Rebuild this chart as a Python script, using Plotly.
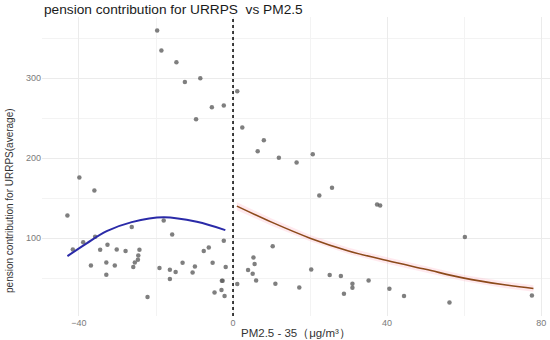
import plotly.graph_objects as go

# scatter points: x = PM2.5 - 35, y = pension contribution
pts_x = [-19.7, -18.6, -14.7, -12.5, -8.5, -5.5, -2.4, -9.6, 1.1,
         2.4, 8.0, 6.4, 11.9, 16.5, 20.7, 25.7, 22.4,
         37.4, 38.2, 10.3, 5.3, 5.6, 3.9, 5.1, 6.0, 1.1, 11.0, 20.3, 25.1, 28.0,
         17.2, 31.0, 31.0, 28.8, 35.2, 40.6, 44.4, 56.2, 60.2, 77.6,
         -39.9, -36.0, -43.0, -26.3, -18.0, -15.8, -38.9, -35.8, -41.6, -34.5,
         -32.6, -30.2, -27.9, -24.3, -24.6, -24.7, -25.5, -25.9, -36.9, -32.9,
         -30.7, -32.9, -22.2, -19.1, -16.4, -16.4, -14.9, -13.1, -9.9, -10.5,
         -7.6, -6.3, -5.3, -2.4, -1.9, -2.9, -2.7, -3.0, -4.8, -2.2]
pts_y = [359.6, 334.6, 320.0, 295.4, 300.0, 263.8, 265.8, 248.7, 283.7,
         238.3, 222.5, 208.8, 200.4, 194.6, 205.0, 162.9, 153.3,
         142.0, 140.8, 90.0, 75.8, 67.5, 60.0, 55.4, 47.1, 42.5, 42.9, 60.8, 53.8, 52.5,
         38.3, 42.9, 37.9, 30.4, 47.1, 36.6, 27.5, 19.6, 101.3, 28.3,
         175.8, 159.6, 128.4, 113.8, 122.0, 104.6, 95.0, 101.7, 85.8, 85.4,
         91.7, 85.8, 83.8, 85.4, 78.3, 72.9, 69.6, 63.8, 65.8, 69.6,
         65.8, 54.2, 26.3, 62.5, 60.4, 48.8, 57.5, 69.2, 64.6, 57.1,
         83.8, 88.3, 69.2, 96.7, 63.8, 46.7, 46.7, 35.0, 32.1, 27.5]

# fitted curve below the cutoff
blue_x = [-43.0, -38.0, -32.8, -26.3, -18.0, -9.4, -2.0]
blue_y = [77.5, 93.5, 108.7, 120.0, 126.2, 120.4, 110.0]

# fitted curve above the cutoff
brown_x = [1.0, 10.0, 20.0, 30.0, 40.0, 50.0, 60.0, 70.0, 78.0]
brown_y = [140.0, 120.0, 100.0, 84.0, 72.0, 61.0, 50.0, 42.0, 37.0]
brown_lo = [135.0, 115.5, 96.0, 80.0, 68.0, 57.0, 46.0, 38.0, 33.0]
brown_hi = [145.0, 124.5, 104.0, 88.0, 76.0, 65.0, 54.0, 46.0, 41.0]

cutoff = 0

x_ticks = [-40, 0, 40, 80]
y_ticks = [100, 200, 300]

fig = go.Figure()

fig.add_trace(go.Scatter(
    x=pts_x, y=pts_y, mode="markers",
    marker=dict(size=4.5, color="rgba(95,95,95,0.8)"),
    showlegend=False, hoverinfo="skip"))

fig.add_trace(go.Scatter(
    x=brown_x + brown_x[::-1], y=brown_hi + brown_lo[::-1],
    fill="toself", fillcolor="rgba(255,182,200,0.3)",
    line=dict(width=0), mode="lines", showlegend=False, hoverinfo="skip"))

fig.add_trace(go.Scatter(
    x=blue_x, y=blue_y, mode="lines", line_shape="spline",
    line=dict(color="#2a2aa8", width=2), showlegend=False))

fig.add_trace(go.Scatter(
    x=brown_x, y=brown_y, mode="lines", line_shape="spline",
    line=dict(color="#8c4a1a", width=1.6), showlegend=False))

fig.add_vline(x=cutoff, line=dict(color="black", width=1.5, dash="dot"))

fig.update_layout(
    width=550, height=340,
    margin=dict(l=42, r=0, t=17, b=24),
    plot_bgcolor="white", paper_bgcolor="white",
    font=dict(family="Liberation Sans, Arial, sans-serif"),
    title=dict(text="pension contribution for URRPS  vs PM2.5",
               xref="container", x=44 / 550, xanchor="left",
               yref="container", y=1 - 9 / 340, yanchor="middle",
               font=dict(size=13.7, color="#1a1a1a")),
    xaxis=dict(range=[-49.6, 82.3], tickvals=x_ticks, showgrid=True, automargin=False,
               gridcolor="#ebebeb", gridwidth=0.9, zeroline=False, showline=False,
               tickfont=dict(size=9, color="#7a7a7a"), ticks="", ticklabelstandoff=0,
               minor=dict(dtick=20, tick0=0, showgrid=True, gridcolor="#f3f3f3", gridwidth=0.6)),
    yaxis=dict(range=[2.6, 376.6], tickvals=y_ticks, showgrid=True, automargin=False,
               gridcolor="#ebebeb", gridwidth=0.9, zeroline=False, showline=False,
               tickfont=dict(size=9, color="#7a7a7a"), ticks="",
               minor=dict(dtick=50, tick0=0, showgrid=True, gridcolor="#f3f3f3", gridwidth=0.6)),
)

fig.add_annotation(text="PM2.5 - 35（μg/m³）", xref="paper", yref="paper",
                   x=0.5, y=0, yanchor="middle", yshift=-17, showarrow=False,
                   font=dict(size=11.5, color="#333333"))
fig.add_annotation(text="pension contribution for URRPS(average)", xref="paper", yref="paper",
                   x=-0.063, y=0.388, textangle=-90, xanchor="center", yanchor="middle",
                   showarrow=False,
                   font=dict(size=10, color="#333333",
                             family="Liberation Sans Narrow, Liberation Sans, Arial"))

fig.write_html("out.html", config={"displayModeBar": False},
               post_script="document.body.style.margin='0';")
